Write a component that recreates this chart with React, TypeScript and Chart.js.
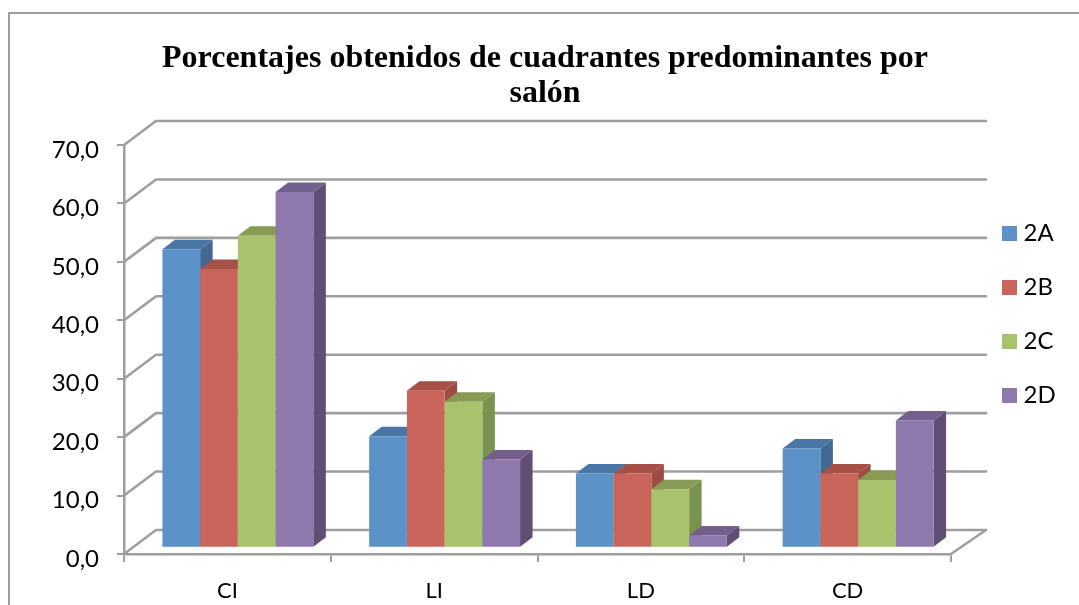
import React, { useEffect, useRef } from "react";
import { Chart, registerables } from "chart.js";

Chart.register(...registerables);

const categories = ["CI", "LI", "LD", "CD"];
const series2A = [51.1, 19.1, 12.7, 17.0];
const series2B = [47.7, 26.9, 12.7, 12.7];
const series2C = [53.4, 25.0, 10.0, 11.6];
const series2D = [60.9, 15.1, 2.1, 21.8];
const seriesNames = ["2A", "2B", "2C", "2D"];
const titleLines = ["Porcentajes obtenidos de cuadrantes predominantes por", "salón"];

const frontColors = ["#5B92C8", "#C9645A", "#A9C26C", "#8F78AE"];
const topColors = ["#4A76A6", "#A65048", "#879B55", "#735F8B"];
const sideColors = ["#436892", "#9E4B43", "#7A9150", "#624D74"];
const GRID = "#9E9E9E";
const UI_FONT = "Lato, 'Open Sans', sans-serif";

// depth of the 3D wall and of the bars
const WALL_DX = 32;
const WALL_DY = 24;
const WALL_RIGHT = 986;
const BAR_SHIFT_X = 10.5;
const BAR_SHIFT_Y = -6.2;
const BAR_DX = 12.5;
const BAR_DY = 9.5;

const poly = (ctx: CanvasRenderingContext2D, pts: number[][], fill: string) => {
  ctx.beginPath();
  pts.forEach(([x, y], i) => (i ? ctx.lineTo(x, y) : ctx.moveTo(x, y)));
  ctx.closePath();
  ctx.fillStyle = fill;
  ctx.fill();
};

const threeD = {
  id: "threeD",
  beforeLayout(chart: any) {
    const legend = chart.legend;
    if (legend && !legend.__patched) {
      const fit = legend.fit;
      legend.fit = function () {
        fit.call(this);
        this.width = 0;
      };
      legend.__patched = true;
    }
  },
  afterLayout(chart: any) {
    const t = chart.titleBlock;
    t.left = 11;
    t.right = 1079;
    t.top = 41;
    t.bottom = 111;
    const l = chart.legend;
    l.left = 977.5;
    l.right = 1079;
    l.top = 191.5;
    l.bottom = 700;
  },
  beforeDraw(chart: any) {
    const ctx = chart.ctx;
    ctx.save();
    ctx.strokeStyle = GRID;
    ctx.lineWidth = 2;
    ctx.beginPath();
    ctx.moveTo(9, 606);
    ctx.lineTo(9, 13);
    ctx.lineTo(1079, 13);
    ctx.stroke();
    ctx.restore();
  },
  beforeDatasetsDraw(chart: any) {
    const ctx = chart.ctx;
    const { x: xs, y: ys } = chart.scales;
    const left = xs.left;
    const right = xs.right;
    const y0 = ys.getPixelForValue(0);

    ctx.save();
    ctx.strokeStyle = GRID;
    ctx.lineWidth = 2.6;
    ctx.lineCap = "round";
    ys.ticks.forEach((tick: any) => {
      const y = ys.getPixelForValue(tick.value);
      ctx.beginPath();
      ctx.moveTo(left, y);
      ctx.lineTo(left + WALL_DX, y - WALL_DY);
      ctx.lineTo(WALL_RIGHT, y - WALL_DY);
      ctx.stroke();
    });
    ctx.beginPath();
    ctx.moveTo(right, y0);
    ctx.lineTo(WALL_RIGHT, y0 - WALL_DY);
    ctx.stroke();
    ctx.restore();

    ctx.save();
    ctx.translate(BAR_SHIFT_X, BAR_SHIFT_Y);
    chart.data.datasets.forEach((_: any, di: number) => {
      const meta = chart.getDatasetMeta(di);
      meta.data.forEach((bar: any) => {
        const l = bar.x - bar.width / 2;
        const r = bar.x + bar.width / 2;
        poly(
          ctx,
          [
            [r, bar.y],
            [r + BAR_DX, bar.y - BAR_DY],
            [r + BAR_DX, bar.base - BAR_DY],
            [r, bar.base],
          ],
          sideColors[di]
        );
        poly(
          ctx,
          [
            [l, bar.y],
            [l + BAR_DX, bar.y - BAR_DY],
            [r + BAR_DX, bar.y - BAR_DY],
            [r, bar.y],
          ],
          topColors[di]
        );
        bar.draw(ctx);
      });
    });
    ctx.restore();
    return false;
  },
};

export default function App() {
  const ref = useRef<HTMLCanvasElement>(null);
  useEffect(() => {
    document.body.style.margin = "0";
    const all = [series2A, series2B, series2C, series2D];
    const chart = new Chart(ref.current!, {
      type: "bar",
      data: {
        labels: categories,
        datasets: all.map((data, i) => ({
          label: seriesNames[i],
          data,
          backgroundColor: frontColors[i],
          borderWidth: 0,
          barPercentage: 1,
          categoryPercentage: 0.73,
        })),
      },
      plugins: [threeD],
      options: {
        responsive: false,
        animation: false,
        layout: { padding: { left: 0, right: 128, top: 75, bottom: 0 } },
        plugins: {
          tooltip: { enabled: false },
          title: {
            display: true,
            text: titleLines,
            color: "#000",
            padding: 0,
            font: { family: "'Liberation Serif', serif", size: 32, weight: "bold", lineHeight: 35 / 32 },
          },
          legend: {
            position: "right",
            align: "start",
            labels: {
              boxWidth: 4,
              boxHeight: 4,
              padding: 30,
              color: "#000",
              font: { family: UI_FONT, size: 24 },
              generateLabels: (c: any) =>
                Chart.defaults.plugins.legend.labels.generateLabels(c).map((item: any) => ({
                  ...item,
                  lineWidth: 11,
                  strokeStyle: item.fillStyle,
                })),
            },
          },
        },
        scales: {
          x: {
            afterFit: (s: any) => {
              s.height = 51;
            },
            border: { display: true, color: GRID, width: 2.5 },
            grid: { drawOnChartArea: false, drawTicks: true, tickLength: 8, color: GRID, lineWidth: 2 },
            ticks: { color: "#000", padding: 16, font: { family: UI_FONT, size: 22 }, maxRotation: 0 },
          },
          y: {
            min: 0,
            max: 70,
            afterFit: (s: any) => {
              s.width = 124;
            },
            border: { display: true, color: GRID, width: 2.5 },
            grid: { drawOnChartArea: false, drawTicks: true, tickLength: 7, color: GRID, lineWidth: 2 },
            ticks: {
              stepSize: 10,
              color: "#000",
              padding: 18,
              labelOffset: 5,
              font: { family: UI_FONT, size: 24 },
              callback: (v: any) => Number(v).toFixed(1).replace(".", ","),
            },
          },
        },
      },
    } as any);
    return () => chart.destroy();
  }, []);
  return <canvas ref={ref} width={1079} height={605} style={{ display: "block" }} />;
}
